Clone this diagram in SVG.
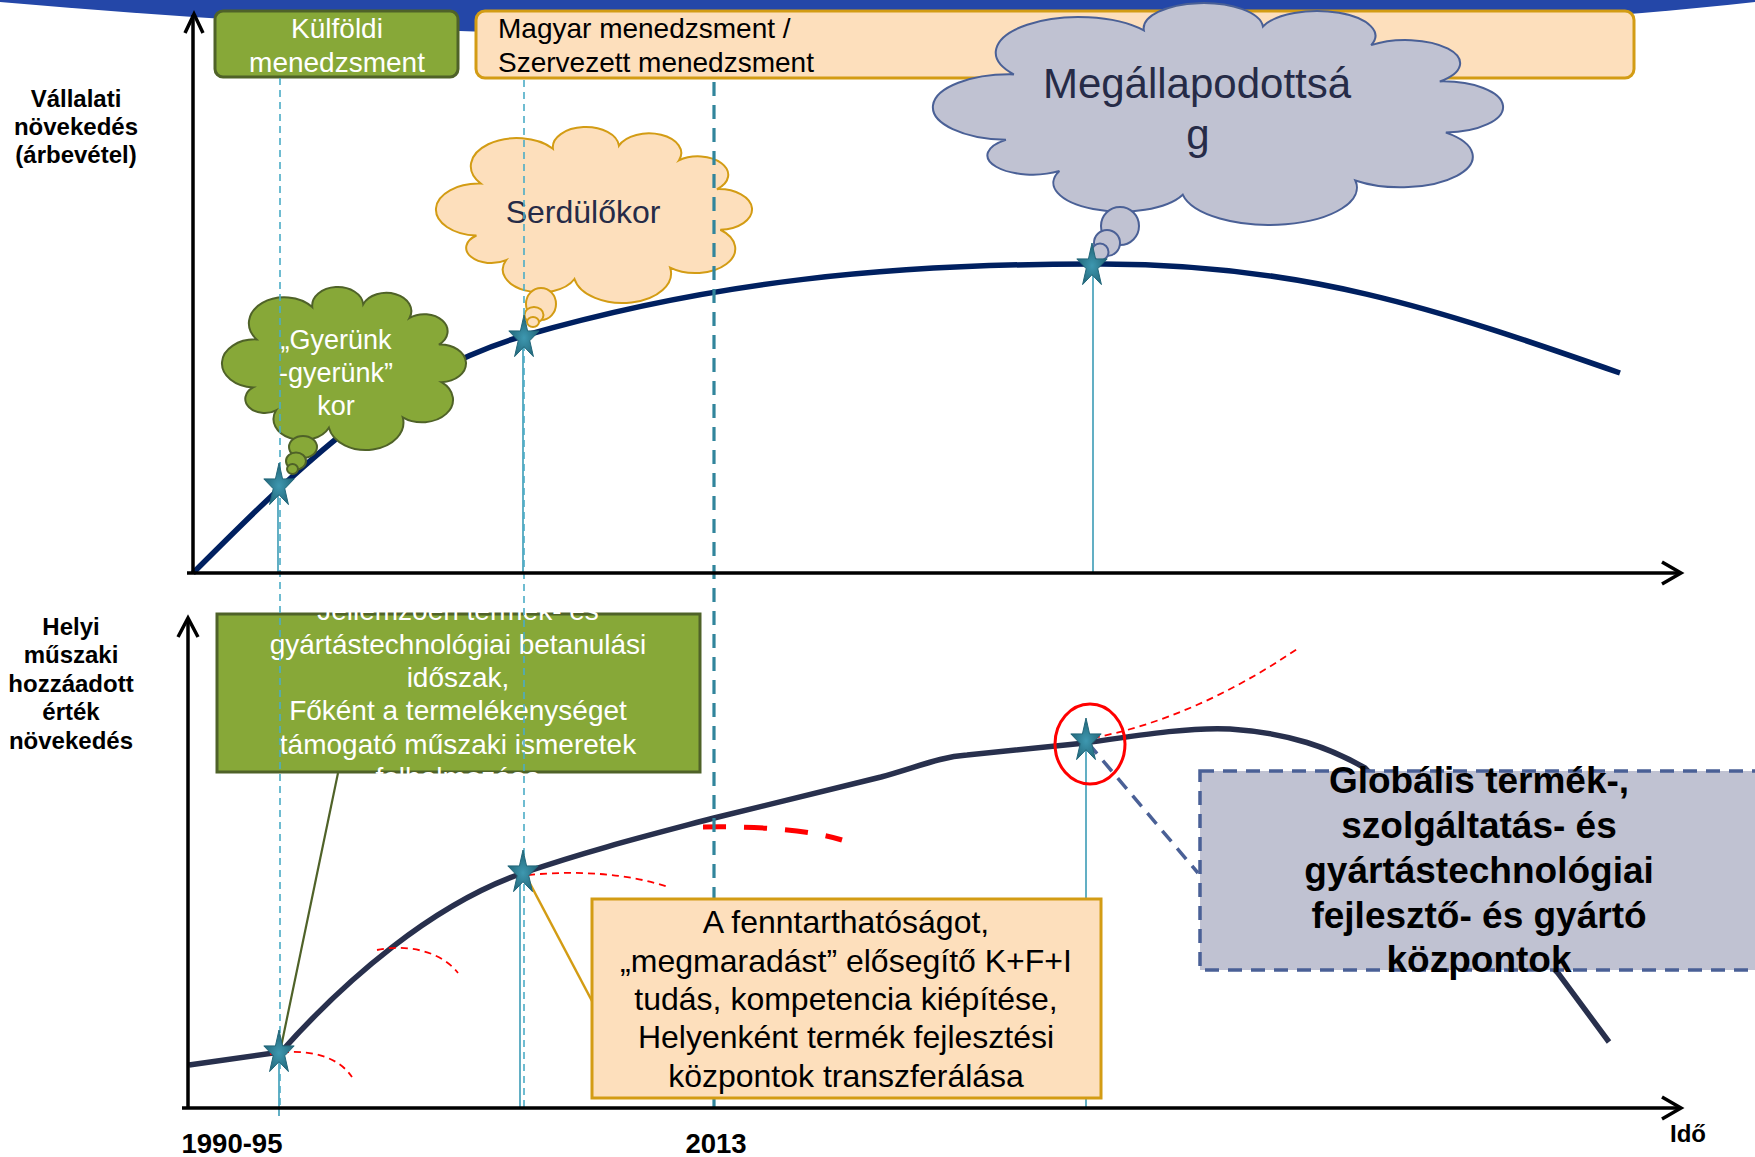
<svg xmlns="http://www.w3.org/2000/svg" width="1755" height="1157" viewBox="0 0 1755 1157">
<defs>
<style>
text{font-family:"Liberation Sans",Arial,sans-serif}
.lbl{font-weight:bold;font-size:24px;fill:#000;text-anchor:middle}
.yr{font-weight:bold;font-size:27.5px;fill:#000;text-anchor:middle}
.axis{stroke:#000;stroke-width:3.5;fill:none}
.vd{stroke:#4BACC6;stroke-width:1.6;stroke-dasharray:7 5;fill:none}
.vd2{stroke:#31859C;stroke-width:3.2;stroke-dasharray:14 9;fill:none}
.drop{stroke:#3C9CB6;stroke-width:1.6;fill:none}
.rd{stroke:#FF0000;stroke-width:1.8;stroke-dasharray:7 5;fill:none}
.wt{fill:#fff;text-anchor:middle}
.bk{fill:#000;text-anchor:middle}
.star{fill:url(#sg);stroke:#22677A;stroke-width:1}
</style>
<radialGradient id="sg" cx="0.5" cy="0.55" r="0.5">
<stop offset="0" stop-color="#3E98B0"/>
<stop offset="1" stop-color="#23687B"/>
</radialGradient>
<path id="cloud" vector-effect="non-scaling-stroke" d="M14.3,61.3 A1,1 0 0 1 15.6,36 A1,1 0 0 1 37,19 A1,1 0 0 1 56.6,17.5 A1,1 0 0 1 74.4,24.7 A1,1 0 0 1 85.7,38.7 A1,1 0 0 1 86.7,58.5 A1,1 0 0 1 71.8,77 A1,1 0 0 1 43.4,82.5 A1,1 0 0 1 23.1,73.3 A1,1 0 0 1 14.3,61.3 Z"/>
<polygon id="star" points="0,-23 3.57,-7.06 15.2,-7.1 5.78,2.69 9.41,18.6 0,8.74 -9.41,18.6 -5.78,2.69 -15.2,-7.1 -3.57,-7.06"/>
</defs>

<rect width="1755" height="1157" fill="#fff"/>

<g id="banner"><path d="M0,0 L1755,0 L1755,2 C1500,30 1200,38 877,38 C550,38 300,28 0,2 Z" fill="#2447A8"/></g>

<g id="box-kulfoldi">
<rect x="215" y="11" width="243" height="66" rx="8" fill="#87A838" stroke="#4F6228" stroke-width="3"/>
<text class="wt" x="337" y="38" font-size="28">Külföldi</text>
<text class="wt" x="337" y="72" font-size="28">menedzsment</text>
</g>

<g id="box-magyar">
<rect x="476" y="11" width="1158" height="67" rx="9" fill="#FDDFBC" stroke="#D39C14" stroke-width="3"/>
<text x="498" y="38" font-size="28" fill="#000">Magyar menedzsment /</text>
<text x="498" y="72" font-size="28" fill="#000">Szervezett menedzsment</text>
</g>

<g id="labels">
<text class="lbl" x="76" y="107">Vállalati</text>
<text class="lbl" x="76" y="135">növekedés</text>
<text class="lbl" x="76" y="163">(árbevétel)</text>
<text class="lbl" x="71" y="635">Helyi</text>
<text class="lbl" x="71" y="663">műszaki</text>
<text class="lbl" x="71" y="692">hozzáadott</text>
<text class="lbl" x="71" y="720">érték</text>
<text class="lbl" x="71" y="749">növekedés</text>
<text class="yr" x="232" y="1153">1990-95</text>
<text class="yr" x="716" y="1153">2013</text>
<text class="lbl" x="1688" y="1142">Idő</text>
</g>

<g id="connectors">
<path class="drop" d="M278,486 V573 M523,338 V573 M1093,266 V573"/>
<path id="upper-curve" d="M193,573 C303,463 393,374 523,336 C713,281 891,264 1091,264 C1300,262 1440,310 1620,373" stroke="#002060" stroke-width="5.5" fill="none"/>
<path class="drop" d="M279,1053 V1116 M520,873 V1108 M1086,741 V1108"/>
<path id="lower-curve" d="M189,1065 L281,1052 C345,980 433,904 523,873 C590,850 650,835 714,818 L881,777 C920,766 940,757 967,755 L1085,743 C1140,735 1190,727 1230,729 C1290,733 1330,748 1365,768 L1558,973 L1609,1042" stroke="#28304D" stroke-width="5.5" fill="none"/>
<path class="rd" d="M270,1054 C300,1049 335,1052 352,1077"/>
<path class="rd" d="M377,950 C405,944 440,950 458,973"/>
<path class="rd" d="M528,875 C580,870 630,874 668,887"/>
<path class="rd" d="M1093,738 C1160,725 1230,695 1300,647"/>
<path d="M703,827 C760,826 810,830 842,840" stroke="#FF0000" stroke-width="5" stroke-dasharray="23 18" fill="none"/>
</g>

<g id="cloud-gyerunk">
<use href="#cloud" transform="translate(216,271) scale(2.601,1.9)" fill="#87A838" stroke="#4F6228" stroke-width="2"/>
<ellipse cx="303" cy="447" rx="14" ry="11" fill="#87A838" stroke="#4F6228" stroke-width="2"/>
<ellipse cx="296" cy="461" rx="10" ry="8.5" fill="#87A838" stroke="#4F6228" stroke-width="2"/>
<ellipse cx="292.5" cy="469" rx="5.5" ry="5" fill="#87A838" stroke="#4F6228" stroke-width="2"/>
<text class="wt" x="336" y="349" font-size="27">„Gyerünk</text>
<text class="wt" x="336" y="382" font-size="27">-gyerünk”</text>
<text class="wt" x="336" y="415" font-size="27">kor</text>
</g>

<g id="cloud-serdulokor">
<use href="#cloud" transform="translate(428.25,109.77) scale(3.369,2.051)" fill="#FDDFBC" stroke="#D39C14" stroke-width="2"/>
<ellipse cx="541" cy="304" rx="15" ry="16" fill="#FDDFBC" stroke="#D39C14" stroke-width="2"/>
<ellipse cx="534" cy="315" rx="9.5" ry="8" fill="#FDDFBC" stroke="#D39C14" stroke-width="2"/>
<ellipse cx="533" cy="322" rx="6" ry="5" fill="#FDDFBC" stroke="#D39C14" stroke-width="2"/>
<text x="583" y="223" font-size="32" fill="#262B47" text-anchor="middle">Serdülőkor</text>
</g>

<g id="cloud-megallapodottsag">
<use href="#cloud" transform="translate(919,-18.73) scale(6.077,2.587)" fill="#C0C2D2" stroke="#4A6096" stroke-width="2"/>
<circle cx="1120" cy="226" r="19" fill="#C0C2D2" stroke="#4A6096" stroke-width="2"/>
<circle cx="1107" cy="243" r="13" fill="#C0C2D2" stroke="#4A6096" stroke-width="2"/>
<circle cx="1100" cy="252" r="8.5" fill="#C0C2D2" stroke="#4A6096" stroke-width="2"/>
<text x="1197" y="98" font-size="42" fill="#262B47" text-anchor="middle">Megállapodottsá</text>
<text x="1198" y="149" font-size="42" fill="#262B47" text-anchor="middle">g</text>
</g>

<g id="box-betanulas">
<rect x="217" y="614" width="483" height="158" fill="#87A838" stroke="#4F6228" stroke-width="3"/>
<text class="wt" x="458" y="620" font-size="28">Jellemzően termék- és</text>
<text class="wt" x="458" y="653.5" font-size="28">gyártástechnológiai betanulási</text>
<text class="wt" x="458" y="687" font-size="28">időszak,</text>
<text class="wt" x="458" y="720" font-size="28">Főként a termelékenységet</text>
<text class="wt" x="458" y="753.5" font-size="28">támogató műszaki ismeretek</text>
<text class="wt" x="458" y="787" font-size="28">felhalmozása</text>
</g>

<g id="vlines">
<line class="vd" x1="280" y1="78" x2="280" y2="1108"/>
<line class="vd" x1="524" y1="80" x2="524" y2="1108"/>
<line class="vd2" x1="714" y1="82" x2="714" y2="1108"/>
</g>

<g id="axes">
<path class="axis" d="M193,573 V15"/>
<path class="axis" d="M185,33 L194,14 L203,33"/>
<path class="axis" d="M187,573 H1680"/>
<path class="axis" d="M1662,562 L1681,573 L1662,584"/>
<path class="axis" d="M188,1108 V620"/>
<path class="axis" d="M178,637 L188,618 L198,637"/>
<path class="axis" d="M182,1108 H1680"/>
<path class="axis" d="M1662,1097 L1681,1108 L1662,1119"/>
</g>

<g id="box-kfi">
<rect x="592" y="899" width="509" height="199" fill="#FDDFBC" stroke="#D39C14" stroke-width="3"/>
<text class="bk" x="846" y="933" font-size="32">A fenntarthatóságot,</text>
<text class="bk" x="846" y="972" font-size="32">„megmaradást” elősegítő K+F+I</text>
<text class="bk" x="846" y="1010" font-size="32">tudás, kompetencia kiépítése,</text>
<text class="bk" x="846" y="1048" font-size="32">Helyenként termék fejlesztési</text>
<text class="bk" x="846" y="1087" font-size="32">központok transzferálása</text>
</g>

<g id="box-global">
<rect x="1200" y="771" width="600" height="199" fill="#C0C2D2" stroke="#4A6096" stroke-width="3.5" stroke-dasharray="14 9"/>
<text class="bk" x="1479" y="793" font-size="37" font-weight="bold">Globális termék-,</text>
<text class="bk" x="1479" y="838" font-size="37" font-weight="bold">szolgáltatás- és</text>
<text class="bk" x="1479" y="883" font-size="37" font-weight="bold">gyártástechnológiai</text>
<text class="bk" x="1479" y="928" font-size="37" font-weight="bold">fejlesztő- és gyártó</text>
<text class="bk" x="1479" y="972" font-size="37" font-weight="bold">központok</text>
</g>

<g id="pointers">
<line x1="338" y1="773" x2="281" y2="1047" stroke="#4F6228" stroke-width="2.2"/>
<line x1="592" y1="1001" x2="526" y2="876" stroke="#D39C14" stroke-width="2.5"/>
<line x1="1088" y1="743" x2="1198" y2="873" stroke="#4A6096" stroke-width="3.5" stroke-dasharray="14 9"/>
</g>

<g id="stars">
<use href="#star" class="star" transform="translate(279,486)"/>
<use href="#star" class="star" transform="translate(524,338)"/>
<use href="#star" class="star" transform="translate(1092,266)"/>
<use href="#star" class="star" transform="translate(279,1053)"/>
<use href="#star" class="star" transform="translate(523,873)"/>
<use href="#star" class="star" transform="translate(1086,741)"/>
</g>

<g id="highlight">
<ellipse cx="1090" cy="744" rx="35" ry="40" fill="none" stroke="#FF0000" stroke-width="3"/>
</g>
</svg>
